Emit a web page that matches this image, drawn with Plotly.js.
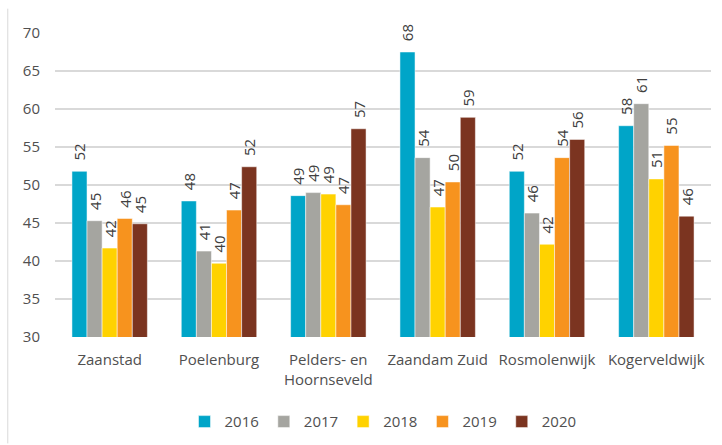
<!DOCTYPE html>
<html><head><meta charset="utf-8">
<script src="https://cdn.plot.ly/plotly-3.0.1.min.js"></script>
<style>html,body{margin:0;padding:0;background:#fff}#chart{width:722px;height:445px}</style>
</head><body><div id="chart"></div>
<script>
const categories = ["Zaanstad", "Poelenburg", "Pelders- en<br>Hoornseveld", "Zaandam Zuid", "Rosmolenwijk", "Kogerveldwijk"];
const years = ["2016", "2017", "2018", "2019", "2020"];
const v2016 = [51.8, 47.9, 48.6, 67.5, 51.8, 57.8];
const v2017 = [45.3, 41.3, 49.0, 53.6, 46.3, 60.7];
const v2018 = [41.7, 39.7, 48.8, 47.1, 42.2, 50.8];
const v2019 = [45.6, 46.7, 47.4, 50.4, 53.6, 55.2];
const v2020 = [44.9, 52.4, 57.4, 58.9, 56.0, 45.9];
const colors = ["#00A5C8", "#A5A5A0", "#FFD200", "#F7931E", "#7B3420"];
const series = [v2016, v2017, v2018, v2019, v2020];

const traces = series.map((vals, i) => ({
  type: "bar",
  name: years[i],
  x: categories,
  y: vals,
  marker: {color: colors[i], line: {color: "#ffffff", width: 0.5}},
  text: vals.map(v => "\u00a0\u00a0" + String(Math.round(v))),
  textposition: "outside",
  textangle: -90,
  constraintext: "none",
  cliponaxis: false,
  textfont: {family: "Open Sans, sans-serif", size: 15, color: "#404040"},
  hoverinfo: "none"
}));

const layout = {
  width: 722, height: 445,
  margin: {l: 55, r: 11, t: 33, b: 108},
  paper_bgcolor: "#fff", plot_bgcolor: "#fff",
  font: {family: "Open Sans, sans-serif", size: 15, color: "#505050"},
  barmode: "group",
  bargap: 0.31,
  bargroupgap: 0,
  showlegend: true,
  legend: {orientation: "h", x: 0.5, xanchor: "center", yref: "container", y: 0.052, yanchor: "middle",
           font: {size: 15, color: "#505050"}, itemwidth: 30, tracegroupgap: 0},
  xaxis: {type: "category", showgrid: false, zeroline: false, showline: false, automargin: false,
          ticks: "", tickfont: {size: 15, color: "#505050"}, ticklabelstandoff: 12},
  yaxis: {range: [30, 70], dtick: 5, tick0: 30, showgrid: true, gridcolor: "#D9D9D9", gridwidth: 1.5,
          zeroline: false, showline: false, ticks: "", automargin: false, tickfont: {size: 15, color: "#505050"},
          ticklabelstandoff: 14},
  shapes: [{type: "line", xref: "paper", yref: "paper", x0: -0.072, x1: -0.072, y0: -0.35, y1: 1.08,
            line: {color: "#D9D9D9", width: 1}}]
};
Plotly.newPlot("chart", traces, layout, {displayModeBar: false, staticPlot: true});
</script></body></html>
